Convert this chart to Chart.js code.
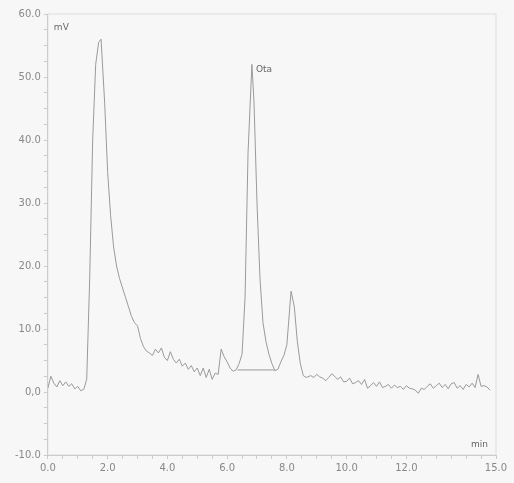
<!DOCTYPE html>
<html>
<head>
<meta charset="utf-8">
<script src="https://cdn.jsdelivr.net/npm/chart.js@4"></script>
<style>
  body { margin: 0; background: #f7f7f7; }
  #wrap { width: 514px; height: 483px; }
</style>
</head>
<body>
<div id="wrap"><canvas id="myChart"></canvas></div>
<script>
// retention time (min) and signal (mV)
const times = [0.0,0.1,0.2,0.3,0.4,0.5,0.6,0.7,0.8,0.9,1.0,1.1,1.2,1.3,1.4,1.5,1.6,1.7,1.78,1.9,2.0,2.1,2.2,2.3,2.4,2.5,2.6,2.7,2.8,2.9,3.0,3.1,3.2,3.3,3.4,3.5,3.6,3.7,3.8,3.9,4.0,4.1,4.2,4.3,4.4,4.5,4.6,4.7,4.8,4.9,5.0,5.1,5.2,5.3,5.4,5.5,5.6,5.7,5.8,5.9,6.0,6.1,6.2,6.3,6.4,6.5,6.6,6.7,6.83,6.9,7.0,7.1,7.2,7.3,7.4,7.5,7.6,7.7,7.8,7.9,8.0,8.14,8.25,8.35,8.45,8.55,8.65,8.8,8.9,9.0,9.1,9.2,9.3,9.4,9.5,9.6,9.7,9.8,9.9,10.0,10.1,10.2,10.3,10.4,10.5,10.6,10.7,10.8,10.9,11.0,11.1,11.2,11.3,11.4,11.5,11.6,11.7,11.8,11.9,12.0,12.1,12.2,12.3,12.4,12.5,12.6,12.7,12.8,12.9,13.0,13.1,13.2,13.3,13.4,13.5,13.6,13.7,13.8,13.9,14.0,14.1,14.2,14.3,14.4,14.5,14.6,14.7,14.8,14.9,15.0];
const signal = [0.6,2.5,1.4,0.8,1.8,1.0,1.6,0.9,1.3,0.5,0.9,0.2,0.4,2.0,18.0,40.0,52.0,55.5,56.0,46.0,35.0,28.0,23.0,20.0,18.0,16.5,15.0,13.5,12.0,11.0,10.5,8.5,7.2,6.5,6.2,5.8,6.8,6.2,7.0,5.5,5.0,6.4,5.2,4.6,5.2,4.1,4.6,3.6,4.2,3.2,3.8,2.6,3.8,2.3,3.6,2.0,3.0,2.8,6.8,5.6,4.8,3.8,3.3,3.5,4.5,6.0,15.0,38.0,52.0,46.0,30.0,18.0,11.0,8.0,6.0,4.5,3.4,3.6,4.8,5.8,7.5,16.0,13.5,8.0,4.5,2.6,2.3,2.6,2.3,2.8,2.4,2.2,1.8,2.3,2.9,2.5,2.0,2.4,1.6,1.7,2.2,1.3,1.5,1.8,1.2,2.0,0.6,1.0,1.5,0.9,1.6,0.7,0.9,1.2,0.6,1.1,0.7,0.9,0.4,1.0,0.6,0.5,0.3,-0.2,0.6,0.4,0.9,1.3,0.6,1.0,1.4,0.7,1.2,0.5,1.3,1.5,0.6,1.0,0.4,1.2,0.8,1.4,0.7,2.8,0.9,1.0,0.8,0.3];
const baseTimes = [6.35, 7.6];
const baseValues = [3.5, 3.5];
const yTicks = [-10, 0, 10, 20, 30, 40, 50, 60];
const xLabelTicks = [0, 2, 4, 6, 8, 10, 12, 15];
const peakName = 'Ota';
const peakTime = 6.83;
const peakValue = 52.0;

const labelsPlugin = {
    id: 'labels',
    afterDatasetsDraw(chart) {
        const c = chart.ctx, x = chart.scales.x, y = chart.scales.y;
        c.save();
        c.fillStyle = '#666';
        c.font = '9px "DejaVu Sans"';
        c.textBaseline = 'middle';
        c.fillText('mV', chart.chartArea.left + 6, chart.chartArea.top + 14);
        c.fillText(peakName, x.getPixelForValue(peakTime) + 4, y.getPixelForValue(peakValue) + 5);
        c.textAlign = 'right';
        c.fillText('min', chart.chartArea.right - 8, chart.chartArea.bottom - 10);
        c.restore();
    }
};

const ctx = document.getElementById('myChart').getContext('2d');
const myChart = new Chart(ctx, {
    type: 'line',
    data: {
        datasets: [{
            data: times.map((t, i) => ({ x: t, y: signal[i] })),
            borderColor: '#9a9a9a',
            borderWidth: 1,
            pointRadius: 0,
            tension: 0
        }, {
            data: baseTimes.map((t, i) => ({ x: t, y: baseValues[i] })),
            borderColor: '#9a9a9a',
            borderWidth: 1,
            pointRadius: 0
        }]
    },
    options: {
        responsive: true,
        maintainAspectRatio: false,
        animation: false,
        layout: { padding: { top: 14, right: 18, left: 12, bottom: 6 } },
        plugins: { legend: { display: false }, tooltip: { enabled: false } },
        scales: {
            x: {
                type: 'linear', min: 0, max: 15,
                afterBuildTicks: s => { s.ticks = []; for (let v = 0; v <= 15; v += 0.5) s.ticks.push({ value: v }); },
                ticks: {
                    autoSkip: false, maxRotation: 0, color: '#888',
                    font: { size: 10, family: 'DejaVu Sans' },
                    callback: v => xLabelTicks.includes(v) ? v.toFixed(1) : ''
                },
                grid: { drawOnChartArea: false, color: '#ccc', tickLength: 4 },
                border: { color: '#ccc' }
            },
            y: {
                min: -10, max: 60,
                afterBuildTicks: s => { s.ticks = []; for (let v = -10; v <= 60; v += 2.5) s.ticks.push({ value: v }); },
                ticks: {
                    autoSkip: false, color: '#888',
                    font: { size: 10, family: 'DejaVu Sans' },
                    callback: v => yTicks.includes(v) ? (v === 0 ? '0,0' : v.toFixed(1)) : ''
                },
                grid: { drawOnChartArea: false, color: '#ccc', tickLength: 4 },
                border: { color: '#ccc' }
            }
        }
    },
    plugins: [labelsPlugin, {
        id: 'frame',
        beforeDraw(chart) {
            const c = chart.ctx, a = chart.chartArea;
            c.save();
            c.fillStyle = '#f7f7f7';
            c.fillRect(0, 0, chart.width, chart.height);
            c.strokeStyle = '#ddd';
            c.strokeRect(a.left, a.top, a.right - a.left, a.bottom - a.top);
            c.restore();
        }
    }]
});
</script>
</body>
</html>
